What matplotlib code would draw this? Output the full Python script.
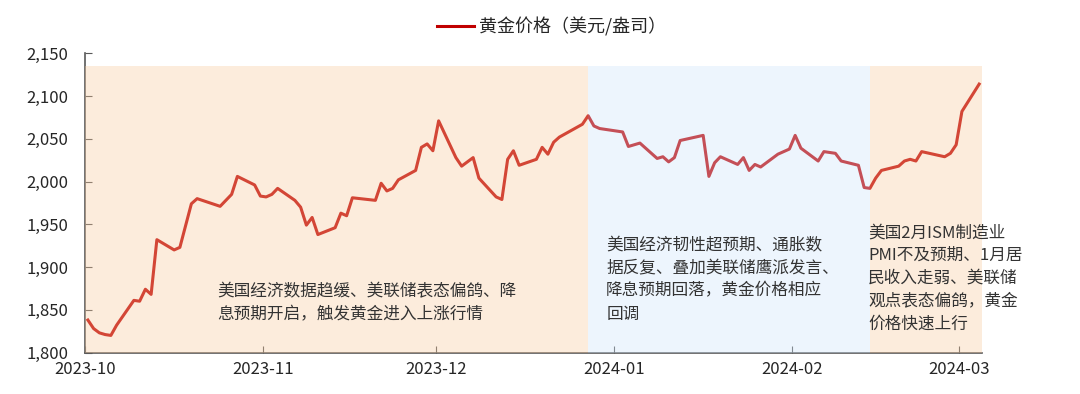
import pandas as pd
import matplotlib
matplotlib.use("Agg")
import matplotlib.pyplot as plt
import matplotlib.dates as mdates
from matplotlib.ticker import StrMethodFormatter

plt.rcParams['font.family'] = ['Noto Sans CJK SC', 'DejaVu Sans']

# Gold price, USD/oz
dates = [
    "2023-10-01", "2023-10-02", "2023-10-03", "2023-10-04", "2023-10-05", "2023-10-06",
    "2023-10-09", "2023-10-10", "2023-10-11", "2023-10-12", "2023-10-13",
    "2023-10-16", "2023-10-17", "2023-10-19", "2023-10-20",
    "2023-10-24", "2023-10-25", "2023-10-26", "2023-10-27",
    "2023-10-30", "2023-10-31", "2023-11-01", "2023-11-02", "2023-11-03",
    "2023-11-06", "2023-11-07", "2023-11-08", "2023-11-09", "2023-11-10",
    "2023-11-13", "2023-11-14", "2023-11-15", "2023-11-16",
    "2023-11-20", "2023-11-21", "2023-11-22", "2023-11-23", "2023-11-24",
    "2023-11-27", "2023-11-28", "2023-11-29", "2023-11-30", "2023-12-01",
    "2023-12-04", "2023-12-05", "2023-12-07", "2023-12-08",
    "2023-12-11", "2023-12-12", "2023-12-13", "2023-12-14", "2023-12-15",
    "2023-12-18", "2023-12-19", "2023-12-20", "2023-12-21", "2023-12-22",
    "2023-12-26", "2023-12-27", "2023-12-28", "2023-12-29",
    "2024-01-02", "2024-01-03", "2024-01-05",
    "2024-01-08", "2024-01-09", "2024-01-10", "2024-01-11", "2024-01-12",
    "2024-01-16", "2024-01-17", "2024-01-18", "2024-01-19",
    "2024-01-22", "2024-01-23", "2024-01-24", "2024-01-25", "2024-01-26",
    "2024-01-29", "2024-01-31", "2024-02-01", "2024-02-02",
    "2024-02-05", "2024-02-06", "2024-02-07", "2024-02-08", "2024-02-09",
    "2024-02-12", "2024-02-13", "2024-02-14", "2024-02-15", "2024-02-16",
    "2024-02-19", "2024-02-20", "2024-02-21", "2024-02-22", "2024-02-23",
    "2024-02-27", "2024-02-28", "2024-02-29", "2024-03-01", "2024-03-04",
]
prices = [
    1838, 1828, 1823, 1821, 1820, 1832,
    1861, 1860, 1874, 1868, 1932,
    1920, 1923, 1974, 1980,
    1971, 1978, 1985, 2006,
    1996, 1983, 1982, 1985, 1992,
    1978, 1970, 1949, 1958, 1938,
    1946, 1963, 1960, 1981,
    1978, 1998, 1989, 1992, 2002,
    2013, 2040, 2044, 2036, 2071,
    2028, 2018, 2028, 2004,
    1982, 1979, 2026, 2036, 2019,
    2026, 2040, 2032, 2046, 2052,
    2067, 2077, 2065, 2062,
    2058, 2041, 2045,
    2027, 2029, 2023, 2028, 2048,
    2054, 2006, 2022, 2029,
    2020, 2028, 2013, 2020, 2017,
    2032, 2038, 2054, 2039,
    2024, 2035, 2034, 2033, 2024,
    2019, 1993, 1992, 2004, 2013,
    2018, 2024, 2026, 2024, 2035,
    2029, 2033, 2043, 2082, 2114,
]

# Market phases (background shading)
phase_edges = ["2023-10-01 00:00", "2023-12-27 12:00", "2024-02-14 12:00", "2024-03-05 00:00"]
phase_colors = ["#F9C99B", "#CEE5FC", "#F9C99B"]
shade_top = 2135

notes = [
    "美国经济数据趋缓、美联储表态偏鸽、降\n息预期开启，触发黄金进入上涨行情",
    "美国经济韧性超预期、通胀数\n据反复、叠加美联储鹰派发言、\n降息预期回落，黄金价格相应\n回调",
    "美国2月ISM制造业\nPMI不及预期、1月居\n民收入走弱、美联储\n观点表态偏鸽，黄金\n价格快速上行",
]
note_pos = [(0.147, 0.232), (0.581, 0.386), (0.873, 0.429)]

x = pd.to_datetime(dates) + pd.Timedelta(hours=12)
edges = pd.to_datetime(phase_edges, format="%Y-%m-%d %H:%M")

fig = plt.figure(figsize=(10.8, 3.94), dpi=100)
ax = fig.add_axes([0.0787, 0.1053, 0.8306, 0.7594])

line, = ax.plot(x, prices, color="#C00000", lw=2.2, zorder=2)

for i, c in enumerate(phase_colors):
    ax.fill_between([edges[i], edges[i + 1]], 1800, shade_top,
                    color=c, alpha=0.35, lw=0, zorder=3)

for txt, (tx, ty) in zip(notes, note_pos):
    ax.text(tx, ty, txt, transform=ax.transAxes, ha="left", va="top",
            fontsize=12, color="#333333", linespacing=1.45, zorder=5)

ax.set_ylim(1800, 2150)
ax.set_xlim(edges[0], edges[-1])
ax.set_yticks(range(1800, 2151, 50))
ax.yaxis.set_major_formatter(StrMethodFormatter("{x:,.0f}"))
ax.xaxis.set_major_locator(mdates.MonthLocator())
ax.xaxis.set_major_formatter(mdates.DateFormatter("%Y-%m"))

for s in ["top", "right"]:
    ax.spines[s].set_visible(False)
for s in ["left", "bottom"]:
    ax.spines[s].set_color("#595959")
    ax.spines[s].set_linewidth(1.2)

ax.tick_params(axis="y", direction="in", length=5, color="#595959",
               labelsize=12, labelcolor="#262626", pad=12)
ax.tick_params(axis="x", direction="in", length=5, color="#595959",
               labelsize=12, labelcolor="#262626", pad=6)

fig.legend([line], ["黄金价格（美元/盎司）"], loc="center",
           bbox_to_anchor=(0.5105, 0.932), frameon=False, fontsize=13,
           handlelength=2.05, handletextpad=0.3,
           labelcolor="#262626")

fig.savefig("out.png", dpi=100)
